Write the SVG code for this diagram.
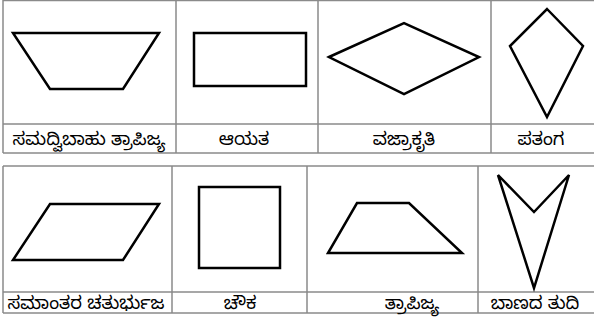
<svg xmlns="http://www.w3.org/2000/svg" width="594" height="322" viewBox="0 0 594 322">
<style>
.grid{stroke:#8a8a8a;stroke-width:1.5;fill:none}
.shape{stroke:#000;stroke-width:2.5;fill:none;stroke-linejoin:miter}
.lbl{font-family:"Noto Sans Kannada","Noto Sans","DejaVu Sans",sans-serif;font-size:18px;fill:#000;text-anchor:middle}
</style>
<rect width="594" height="322" fill="#fff"/>
<g id="grid">
<path class="grid" d="M3,0.5H594M3,124H594M3,153H594M3,0V153M176,0V153M318,0V153M491,0V153"/>
<path class="grid" d="M3,166H594M3,292H594M3,313H594M3,166V313M172,166V313M307,166V313M478,166V313"/>
</g>
<g id="isosceles-trapezoid"><polygon class="shape" points="13,33 159,33 123,89 50,89"/><text class="lbl" x="89" y="145">ಸಮದ್ವಿಬಾಹು ತ್ರಾಪಿಜ್ಯ</text></g>
<g id="rectangle"><rect class="shape" x="194" y="33" width="112" height="53"/><text class="lbl" x="244" y="145">ಆಯತ</text></g>
<g id="rhombus"><polygon class="shape" points="329,57 404,23 479,57 404,94"/><text class="lbl" x="404" y="145">ವಜ್ರಾಕೃತಿ</text></g>
<g id="kite"><polygon class="shape" points="547,9 583,46 547,117 510,46"/><text class="lbl" x="541" y="145">ಪತಂಗ</text></g>
<g id="parallelogram"><polygon class="shape" points="50,204 159,204 123,260 13,260"/><text class="lbl" x="86" y="309">ಸಮಾಂತರ ಚತುರ್ಭುಜ</text></g>
<g id="square"><rect class="shape" x="199" y="187" width="81" height="81"/><text class="lbl" x="240" y="309">ಚೌಕ</text></g>
<g id="trapezoid"><polygon class="shape" points="357,203 409,203 462,253 328,253"/><text class="lbl" x="412" y="309">ತ್ರಾಪಿಜ್ಯ</text></g>
<g id="arrowhead"><polygon class="shape" points="498,175 534,212 569,175 534,288"/><text class="lbl" x="535" y="309">ಬಾಣದ ತುದಿ</text></g>
</svg>
